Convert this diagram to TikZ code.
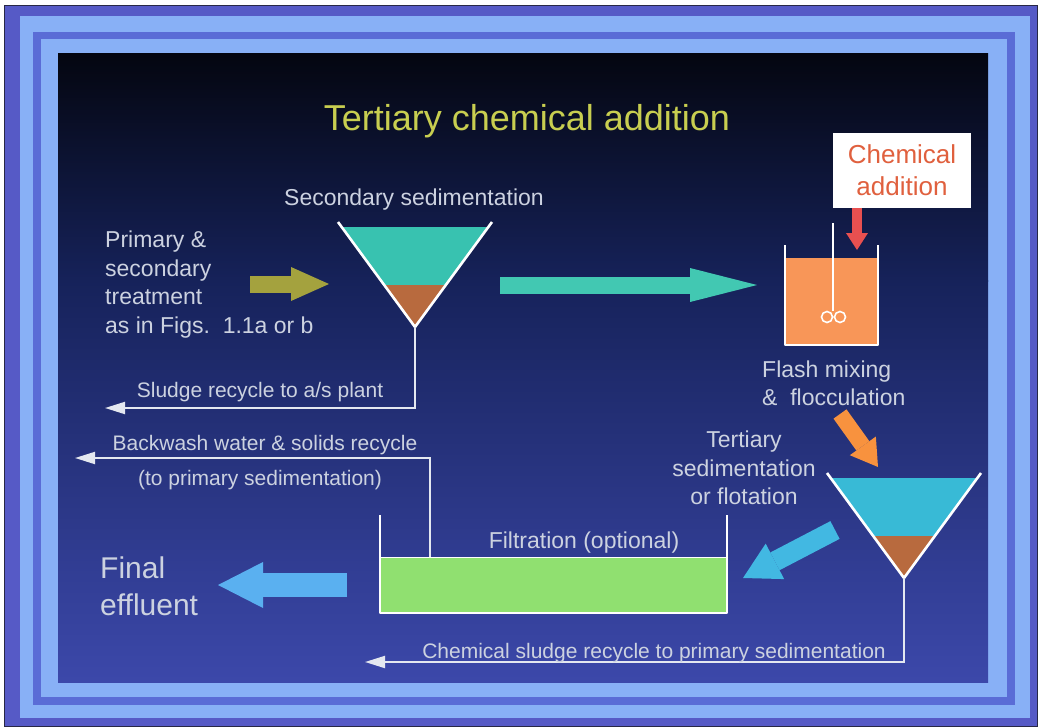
\documentclass[tikz,border=0pt]{standalone}
\usepackage{fontspec}
\setmainfont{Liberation Sans}
\usetikzlibrary{arrows.meta}
\definecolor{frameEdge}{RGB}{40,40,70}
\definecolor{frameViolet}{RGB}{86,90,198}
\definecolor{frameLight}{RGB}{136,176,246}
\definecolor{frameBlue}{RGB}{90,108,214}
\definecolor{panelTop}{RGB}{4,6,16}
\definecolor{panelMid}{RGB}{22,34,90}
\definecolor{panelBottom}{RGB}{60,72,170}
\definecolor{titleYellow}{RGB}{200,206,80}
\definecolor{labelGrey}{RGB}{204,210,224}
\definecolor{lineWhite}{RGB}{228,232,240}
\definecolor{secondaryWater}{RGB}{56,194,176}
\definecolor{tertiaryWater}{RGB}{56,186,214}
\definecolor{sludgeBrown}{RGB}{184,106,62}
\definecolor{inflowOlive}{RGB}{164,162,62}
\definecolor{transferTeal}{RGB}{66,200,178}
\definecolor{chemRed}{RGB}{224,96,62}
\definecolor{doseRed}{RGB}{232,80,80}
\definecolor{tankOrange}{RGB}{248,150,88}
\definecolor{flocOrange}{RGB}{248,146,62}
\definecolor{filterCyan}{RGB}{66,184,226}
\definecolor{filterGreen}{RGB}{144,224,112}
\definecolor{effluentBlue}{RGB}{90,176,240}
\tikzstyle{slide} = [x = 1pt, y = -1pt]
\tikzstyle{panelUpper} = [top color=panelTop, bottom color=panelMid]
\tikzstyle{panelLower} = [top color=panelMid, bottom color=panelBottom]
\tikzstyle{vesselLine} = [color=white, line width=2.6pt, line join=round]
\tikzstyle{mixerLine} = [color=white, line width=1.6pt]
\tikzstyle{recycleLine} = [color=lineWhite, line width=2pt, -{Triangle[length=20pt, width=12pt]}]
\tikzstyle{titleText} = [text=titleYellow, font=\fontsize{36}{40}\selectfont, inner sep=0]
\tikzstyle{labelText} = [text=labelGrey, font=\fontsize{23}{28.5}\selectfont, inner sep=0]
\tikzstyle{recycleText} = [text=labelGrey, font=\fontsize{21}{25}\selectfont, inner sep=0]
\tikzstyle{effluentText} = [text=labelGrey, font=\fontsize{30}{37}\selectfont, inner sep=0]
\tikzstyle{chemBoxStyle} = [fill=white, minimum width=138pt, minimum height=75pt, align=center, text=chemRed, font=\fontsize{26}{32}\selectfont, inner sep=0]
\newcommand{\settler}[4]{
  \coordinate (#1Apex) at (#2, #3 + 105);
  \fill [#4] (#2 - 73, #3 + 5) -- (#2 + 73, #3 + 5) -- (#2 + 31, #3 + 63) -- (#2 - 31, #3 + 63) -- cycle;
  \fill [sludgeBrown] (#2 - 31, #3 + 63) -- (#2 + 31, #3 + 63) -- (#1Apex) -- cycle;
  \draw [vesselLine] (#2 - 77, #3) -- (#1Apex) -- (#2 + 77, #3);
}
\newcommand{\blockArrow}[6]{\draw [line width=#3, draw=#6, -{Triangle[length=#4, width=#5, line width=0pt]}] (#1) -- (#2);}

\begin{document}
\begin{tikzpicture}[slide]
  \useasboundingbox (0,0) rectangle (1039,728);
  \fill [white] (0,0) rectangle (1039,728);
  \draw [frameEdge, fill=frameViolet] (4,5) rectangle (1037,726);
  \foreach \colour/\ax/\ay/\bx/\by in {frameLight/20/16/1030/718, frameBlue/33/32/1015/705, frameLight/41/39/1007/697} {
    \fill [\colour] (\ax,\ay) rectangle (\bx,\by);
  }
  \shade [panelUpper] (58,53) rectangle (988,281);
  \shade [panelLower] (58,280) rectangle (988,682);

  \node [titleText, anchor=base] (title) at (527,130) {Tertiary chemical addition};

  \settler{secondary}{415}{222}{secondaryWater}
  \node [labelText, anchor=base] (secondaryLabel) at (414,205) {Secondary sedimentation};
  \node [labelText, anchor=north west, align=left] (inflowText) at (105,231) {Primary \&\\secondary\\treatment\\as in Figs.\ \ 1.1a or b};
  \coordinate (inflowTail) at (250,284);
  \coordinate (inflowTip) at (329,284);
  \blockArrow{inflowTail}{inflowTip}{17pt}{38pt}{34pt}{inflowOlive}
  \coordinate (transferTail) at (500,285);
  \coordinate (transferTip) at (757,285);
  \blockArrow{transferTail}{transferTip}{17pt}{67pt}{34pt}{transferTeal}

  \coordinate (sludgeEnd) at (105,408);
  \draw [recycleLine] (secondaryApex) |- (sludgeEnd);
  \node [recycleText, anchor=base] (sludgeLabel) at (260,397) {Sludge recycle to a/s plant};

  \node [chemBoxStyle] (chemBox) at (902,170.5) {Chemical\\addition};
  \coordinate (dosePoint) at (857,250);
  \blockArrow{chemBox.south -| dosePoint}{dosePoint}{10pt}{17pt}{22pt}{doseRed}

  \fill [tankOrange] (785,258) rectangle (878,345);
  \draw [vesselLine] (785,245) -- (785,345) -- (878,345) -- (878,245);
  \coordinate (mixerTop) at (833,223);
  \coordinate (mixerHub) at (833,311);
  \draw [mixerLine] (mixerTop) -- (mixerHub);
  \draw [mixerLine] (827,317) circle [radius=5.5pt] (840,317) circle [radius=5.5pt];
  \node [labelText, anchor=north west, align=left, font=\fontsize{23}{27.5}\selectfont] (mixLabel) at (762,361) {Flash mixing\\\&\ \ flocculation};

  \coordinate (flocTail) at (840,414);
  \coordinate (flocTip) at (878,467);
  \blockArrow{flocTail}{flocTip}{16pt}{26pt}{32pt}{flocOrange}

  \settler{tertiary}{904}{473}{tertiaryWater}
  \node [labelText, anchor=north, align=center] (tertiaryLabel) at (744,431) {Tertiary\\sedimentation\\or flotation};

  \coordinate (settledTail) at (835,530);
  \coordinate (settledTip) at (743,578);
  \blockArrow{settledTail}{settledTip}{20pt}{36pt}{40pt}{filterCyan}

  \fill [filterGreen] (380,557) rectangle (727,613);
  \draw [white, line width=1pt] (380,557) -- (727,557);
  \draw [vesselLine] (380,515) -- (380,613) -- (727,613) -- (727,515);
  \node [labelText, anchor=base] (filterLabel) at (584,548) {Filtration (optional)};

  \coordinate (backwashStart) at (430,557);
  \coordinate (backwashEnd) at (75,458);
  \draw [recycleLine] (backwashStart) |- (backwashEnd);
  \node [recycleText, anchor=base] (backwashLabel) at (265,450) {Backwash water \& solids recycle};
  \node [recycleText, anchor=base] (backwashTarget) at (260,485) {(to primary sedimentation)};

  \coordinate (chemSludgeEnd) at (365,662);
  \draw [recycleLine] (tertiaryApex) |- (chemSludgeEnd);
  \node [recycleText, anchor=base] (chemSludgeLabel) at (654,658) {Chemical sludge recycle to primary sedimentation};

  \coordinate (effluentTail) at (347,585);
  \coordinate (effluentTip) at (218,585);
  \blockArrow{effluentTail}{effluentTip}{24pt}{45pt}{46pt}{effluentBlue}
  \node [effluentText, anchor=north west, align=left] (effluentLabel) at (100,557) {Final\\effluent};
\end{tikzpicture}
\end{document}
